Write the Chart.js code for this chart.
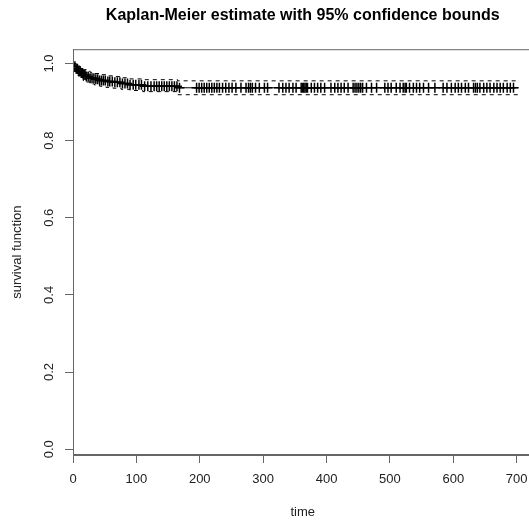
<!DOCTYPE html>
<html>
<head>
<meta charset="utf-8">
<script src="https://cdn.jsdelivr.net/npm/chart.js@4.4.1/dist/chart.umd.min.js"></script>
<style>
    html, body { margin: 0; padding: 0; background: #fff; overflow: hidden; }
    #wrap { width: 539px; height: 520px; }
</style>
</head>
<body>
<div id="wrap"><canvas id="km" width="539" height="520"></canvas></div>
<script>
// Kaplan-Meier steps (time where the curve drops, value after the drop)
const EVENT_TIMES = [0, 2, 5, 8, 12, 16, 21, 27, 34, 42, 52, 63, 76, 90, 110, 165];
const SURVIVAL    = [1.0, 0.993, 0.986, 0.980, 0.975, 0.970, 0.966, 0.962, 0.959, 0.956, 0.953, 0.951, 0.948, 0.945, 0.941, 0.937];
const UPPER_95    = [1.0, 1.0, 0.997, 0.992, 0.988, 0.984, 0.980, 0.977, 0.974, 0.971, 0.968, 0.966, 0.963, 0.960, 0.958, 0.955];
const LOWER_95    = [1.0, 0.986, 0.975, 0.968, 0.962, 0.956, 0.952, 0.947, 0.944, 0.941, 0.938, 0.936, 0.933, 0.930, 0.927, 0.919];
const LAST_TIME = 703;

// censored observations (marked with +)
const CENSOR_TIMES = [
    3, 5, 7, 9, 11, 13, 15, 17, 19, 21, 24, 27, 30, 33, 36, 39, 42, 45, 48, 51,
    55, 58, 62, 66, 70, 74, 78, 82, 86, 90, 95, 99, 104, 108, 113, 118, 123, 128, 132, 136,
    140, 144, 148, 152, 156, 160, 164, 168, 195, 199, 203, 207, 211, 215, 219, 223, 227, 231,
    236, 241, 246, 251, 257, 265, 273, 277, 280, 283, 288, 294, 302, 307, 325, 331, 336, 341,
    347, 352, 360, 362, 364, 366, 368, 370, 376, 381, 386, 391, 397, 407, 413, 418, 423, 428,
    434, 442, 445, 448, 451, 454, 457, 463, 471, 479, 492, 497, 502, 510, 516, 521, 524, 526,
    531, 537, 542, 547, 553, 561, 571, 584, 590, 597, 603, 608, 613, 619, 624, 632, 635, 638,
    642, 648, 653, 658, 664, 669, 674, 679, 685, 690, 695
];

const X_TICKS = [0, 100, 200, 300, 400, 500, 600, 700];
const Y_TICKS = [0, 0.2, 0.4, 0.6, 0.8, 1.0];

const stepPoints = (vals) => {
    const pts = EVENT_TIMES.map((t, i) => ({ x: t, y: vals[i] }));
    pts.push({ x: LAST_TIME, y: vals[vals.length - 1] });
    return pts;
};

const survAt = (t) => {
    let s = SURVIVAL[0];
    EVENT_TIMES.forEach((et, i) => { if (et <= t) s = SURVIVAL[i]; });
    return s;
};

const axisColor = '#666';
const textColor = '#222';
const font = { family: "'Liberation Sans', Arial, sans-serif", size: 13 };

const boxPlugin = {
    id: 'box',
    afterDraw(chart) {
        const { ctx, chartArea: a } = chart;
        ctx.save();
        ctx.strokeStyle = axisColor;
        ctx.lineWidth = 1;
        ctx.strokeRect(a.left + 0.5, a.top + 0.5, a.right - a.left - 1, a.bottom - a.top - 1);
        ctx.restore();
    }
};

new Chart(document.getElementById('km'), {
    type: 'line',
    data: {
        datasets: [
            {
                data: stepPoints(SURVIVAL),
                stepped: true,
                borderColor: '#000',
                borderWidth: 1,
                pointRadius: 0,
            },
            {
                data: stepPoints(UPPER_95),
                stepped: true,
                borderColor: '#000',
                borderWidth: 1,
                borderDash: [4, 4],
                pointRadius: 0,
            },
            {
                data: stepPoints(LOWER_95),
                stepped: true,
                borderColor: '#000',
                borderWidth: 1,
                borderDash: [4, 4],
                pointRadius: 0,
            },
            {
                data: CENSOR_TIMES.map(t => ({ x: t, y: survAt(t) })),
                showLine: false,
                pointStyle: 'cross',
                pointRadius: 5,
                borderColor: '#000',
                borderWidth: 1.5,
            },
        ]
    },
    options: {
        responsive: false,
        animation: false,
        devicePixelRatio: 1,
        layout: { padding: 0 },
        plugins: {
            legend: { display: false },
            tooltip: { enabled: false },
            title: {
                display: true,
                fullSize: false,
                text: 'Kaplan-Meier estimate with 95% confidence bounds',
                color: '#000',
                font: { family: font.family, size: 16, weight: 'bold' },
                padding: { top: 6, bottom: 24 },
            },
        },
        scales: {
            x: {
                type: 'linear',
                min: 0,
                max: 725,
                afterBuildTicks: (s) => { s.ticks = X_TICKS.map(v => ({ value: v })); },
                afterFit: (s) => { s.height = 65; s.paddingLeft = 0; s.paddingRight = 0; },
                grid: { drawOnChartArea: false, tickLength: 8, color: axisColor },
                border: { color: axisColor },
                ticks: { color: textColor, font, padding: 9, maxRotation: 0 },
                title: { display: true, text: 'time', color: textColor, font, padding: { top: 0, bottom: 0 } },
            },
            y: {
                min: -0.015,
                max: 1.037,
                afterBuildTicks: (s) => { s.ticks = Y_TICKS.map(v => ({ value: v })); },
                afterFit: (s) => { s.width = 73; },
                grid: { drawOnChartArea: false, tickLength: 8, color: axisColor },
                border: { color: axisColor },
                ticks: {
                    color: textColor, font, padding: 7,
                    minRotation: 90, maxRotation: 90, crossAlign: 'center',
                    callback: (v) => v.toFixed(1),
                },
                title: { display: true, text: 'survival function', color: textColor, font, padding: { top: 10, bottom: 0 } },
            },
        },
    },
    plugins: [boxPlugin],
});
</script>
</body>
</html>
